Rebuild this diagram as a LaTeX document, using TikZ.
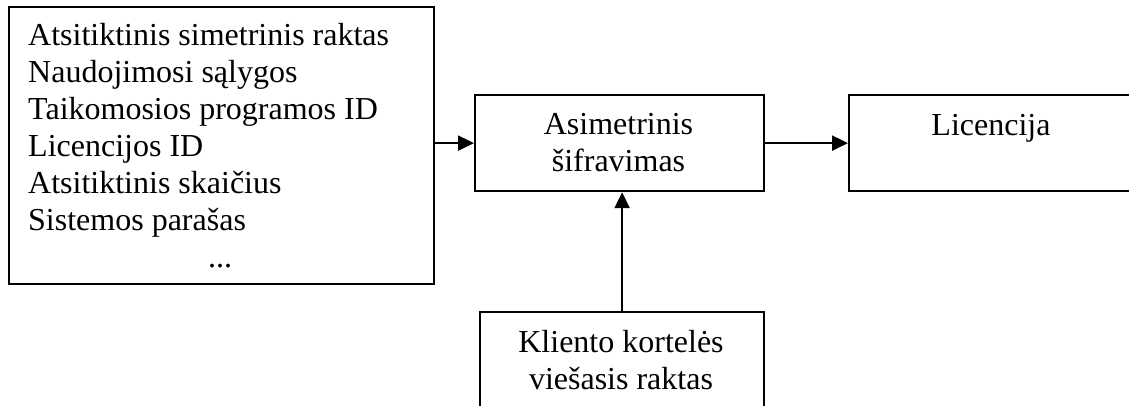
\documentclass[tikz,border=0pt]{standalone}
\usepackage{fontspec}
\setmainfont{Liberation Serif}
\usetikzlibrary{arrows.meta}
\begin{document}
\begin{tikzpicture}[x=1pt, y=-1pt,
  box/.style={draw, line width=2.2pt, inner sep=0pt, anchor=north west},
  lbl/.style={font=\fontsize{32}{37}\selectfont, inner sep=0pt},
  flow/.style={line width=2.2pt, -{Triangle[length=16pt, width=15pt]}}]
  \useasboundingbox (0,0) rectangle (1129,405);

  % boxes
  \node[box, minimum width=425.5pt, minimum height=277pt] (data) at (7.5,6) {};
  \node[box, minimum width=289pt, minimum height=96pt] (enc) at (474,94) {};
  \node[box, minimum width=290pt, minimum height=96pt] (lic) at (848,94) {};
  \node[box, minimum width=284pt, minimum height=130pt] (key) at (479,311) {};

  % contents of the licence data
  \foreach \t [count=\i] in {Atsitiktinis simetrinis raktas, Naudojimosi sąlygos,
      Taikomosios programos ID, Licencijos ID, Atsitiktinis skaičius, Sistemos parašas}
    \node[lbl, anchor=base west] (field\i) at (28, {45.7+37*(\i-1)}) {\t};
  \node[lbl, anchor=base] (more) at (220,267.7) {...};

  % box labels (base anchor sits on the last line)
  \node[lbl, anchor=base, align=center] (enctext) at (618.5,171) {Asimetrinis\\šifravimas};
  \node[lbl, anchor=base] (lictext) at (991,135) {Licencija};
  \node[lbl, anchor=base, align=center] (keytext) at (621,389) {Kliento kortelės\\viešasis raktas};

  % data flow
  \draw[flow] (data.east |- enc.west) -- (enc.west);
  \draw[flow] (enc.east) -- (lic.west);
  \draw[flow] (key.north) -- (key.north |- enc.south);
\end{tikzpicture}
\end{document}
